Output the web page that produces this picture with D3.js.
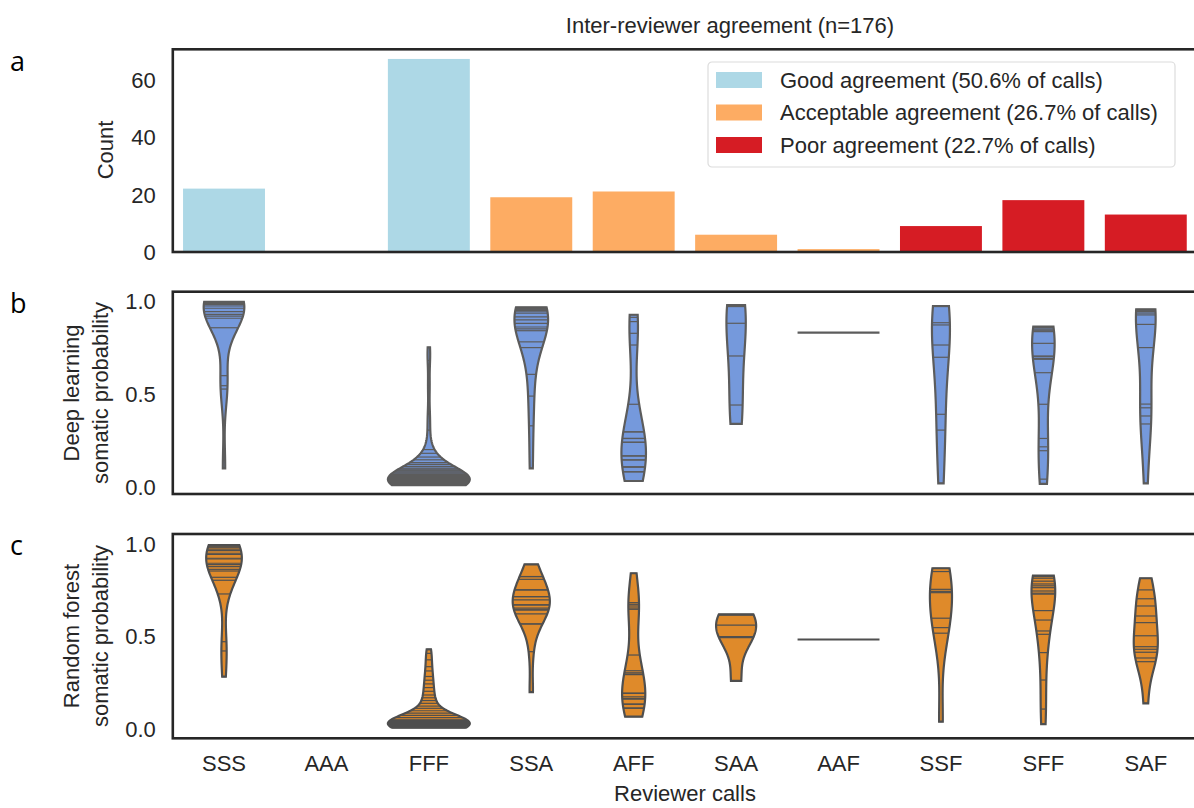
<!DOCTYPE html>
<html>
<head>
<meta charset="utf-8">
<title>Inter-reviewer agreement</title>
<style>
  body { margin: 0; background: #fff; }
  svg { display: block; font-family: "Liberation Sans", Arial, sans-serif; }
  .tick text { fill: #262626; font-size: 22px; font-family: "Liberation Sans", Arial, sans-serif; }
  .lbl { fill: #262626; font-size: 22px; }
  .panel { font-family: "Open Sans", sans-serif; font-size: 27px; fill: #000; }
</style>
</head>
<body>
<script src="https://cdn.jsdelivr.net/npm/d3@7"></script>
<script>

// reviewer call categories and how many of the 176 calls fall in each
var categories = ["SSS", "AAA", "FFF", "SSA", "AFF", "SAA", "AAF", "SSF", "SFF", "SAF"];
var groups     = ["good", "good", "good", "acceptable", "acceptable", "acceptable", "acceptable", "poor", "poor", "poor"];
var counts     = [22, 0, 67, 19, 21, 6, 1, 9, 18, 13];

var legendLabels = ["Good agreement (50.6% of calls)", "Acceptable agreement (26.7% of calls)", "Poor agreement (22.7% of calls)"];
var groupKeys    = ["good", "acceptable", "poor"];
var groupColors  = ["#add8e6", "#fdac63", "#d61c24"];

var countTicks = [0, 20, 40, 60];
var probTicks  = [0, 0.5, 1];

// deep learning somatic probability per call
var dlSSS = [0.995, 0.994, 0.993, 0.992, 0.99, 0.989, 0.988, 0.986, 0.985, 0.983, 0.98, 0.973, 0.961, 0.943, 0.928, 0.919, 0.907, 0.856, 0.598, 0.544, 0.526, 0.099];
var dlAAA = [];
var dlFFF = [0.75, 0.68, 0.54, 0.39, 0.305, 0.20, 0.18, 0.16, 0.145, 0.13, 0.12, 0.11, 0.10, 0.095, 0.09, 0.085, 0.08, 0.075, 0.07, 0.066,
             0.063, 0.06, 0.057, 0.054, 0.052, 0.05, 0.048, 0.046, 0.045, 0.044, 0.042, 0.041, 0.040, 0.039, 0.038, 0.037, 0.036, 0.035, 0.034, 0.033,
             0.032, 0.031, 0.030, 0.029, 0.028, 0.027, 0.026, 0.025, 0.024, 0.023, 0.022, 0.021, 0.020, 0.019, 0.018, 0.017, 0.016, 0.015, 0.014, 0.013,
             0.012, 0.011, 0.010, 0.010, 0.009, 0.009, 0.009];
var dlSSA = [0.966, 0.962, 0.96, 0.955, 0.95, 0.945, 0.935, 0.915, 0.898, 0.88, 0.86, 0.85, 0.84, 0.78, 0.749, 0.605, 0.488, 0.328, 0.099];
var dlAFF = [0.926, 0.912, 0.889, 0.826, 0.763, 0.444, 0.296, 0.295, 0.26, 0.26, 0.24, 0.239, 0.167, 0.165, 0.145, 0.144, 0.108, 0.105, 0.081, 0.08, 0.031];
var dlSAA = [0.978, 0.97, 0.88, 0.704, 0.44, 0.338];
var dlAAF = [0.83];
var dlSSF = [0.973, 0.97, 0.883, 0.871, 0.763, 0.697, 0.39, 0.305, 0.018];
var dlSFF = [0.862, 0.86, 0.855, 0.848, 0.84, 0.835, 0.772, 0.704, 0.70, 0.69, 0.686, 0.614, 0.444, 0.26, 0.215, 0.194, 0.041, 0.015];
var dlSAF = [0.955, 0.95, 0.945, 0.943, 0.935, 0.925, 0.874, 0.749, 0.445, 0.425, 0.381, 0.338, 0.018];

// random forest somatic probability per call
var rfSSS = [0.99, 0.988, 0.985, 0.98, 0.975, 0.964, 0.96, 0.946, 0.94, 0.919, 0.915, 0.892, 0.885, 0.874, 0.859, 0.85, 0.816, 0.80, 0.726, 0.468, 0.418, 0.279];
var rfAAA = [];
var rfFFF = [0.427, 0.405, 0.37, 0.333, 0.31, 0.28, 0.26, 0.24, 0.22, 0.20, 0.18, 0.165, 0.15, 0.135, 0.12, 0.108, 0.095, 0.082, 0.07, 0.058,
             0.045, 0.044, 0.043, 0.042, 0.041, 0.040, 0.039, 0.038, 0.037, 0.036, 0.035, 0.034, 0.033, 0.032, 0.031, 0.030, 0.029, 0.028, 0.027, 0.026,
             0.025, 0.024, 0.023, 0.022, 0.021, 0.020, 0.019, 0.018, 0.017, 0.016, 0.015, 0.014, 0.013, 0.012, 0.011, 0.010, 0.009, 0.009, 0.008, 0.008,
             0.007, 0.007, 0.006, 0.006, 0.005, 0.004, 0.003];
var rfSSA = [0.886, 0.82, 0.82, 0.805, 0.748, 0.748, 0.712, 0.712, 0.694, 0.667, 0.667, 0.649, 0.64, 0.64, 0.618, 0.564, 0.564, 0.414, 0.195];
var rfAFF = [0.838, 0.679, 0.67, 0.661, 0.65, 0.643, 0.396, 0.311, 0.30, 0.293, 0.29, 0.19, 0.189, 0.17, 0.16, 0.158, 0.131, 0.13, 0.11, 0.108, 0.063];
var rfSAA = [0.616, 0.612, 0.558, 0.495, 0.49, 0.256];
var rfAAF = [0.48];
var rfSSF = [0.865, 0.847, 0.751, 0.74, 0.733, 0.595, 0.544, 0.514, 0.036];
var rfSFF = [0.825, 0.82, 0.811, 0.795, 0.78, 0.77, 0.76, 0.742, 0.73, 0.725, 0.636, 0.585, 0.526, 0.508, 0.409, 0.261, 0.104, 0.023];
var rfSAF = [0.811, 0.748, 0.70, 0.661, 0.607, 0.571, 0.50, 0.441, 0.427, 0.411, 0.38, 0.36, 0.135];

var dlValues = [dlSSS, dlAAA, dlFFF, dlSSA, dlAFF, dlSAA, dlAAF, dlSSF, dlSFF, dlSAF];
var rfValues = [rfSSS, rfAAA, rfFFF, rfSSA, rfAFF, rfSAA, rfAAF, rfSSF, rfSFF, rfSAF];

var W = 1194, H = 808;
var left = 172.8, right = 1197;

var svg = d3.select("body").append("svg")
  .attr("width", W)
  .attr("height", H);

var x = d3.scaleBand().domain(categories).range([left, right]);
var color = d3.scaleOrdinal().domain(groupKeys).range(groupColors);

function frame(top, bottom) {
  svg.append("rect")
    .attr("x", left).attr("y", top)
    .attr("width", right - left).attr("height", bottom - top)
    .attr("fill", "none")
    .attr("stroke", "#262626")
    .attr("stroke-width", 2.6);
}

function yAxis(y, ticks, fmt) {
  var g = svg.append("g")
    .attr("transform", "translate(" + left + ",0)")
    .call(d3.axisLeft(y).tickValues(ticks).tickSize(0).tickPadding(17).tickFormat(fmt));
  g.attr("font-family", null);
  g.select(".domain").remove();
  g.selectAll("text").attr("dy", "0.36em");
}

function ylabel(lines, cx, cy) {
  var t = svg.append("text")
    .attr("class", "lbl")
    .attr("text-anchor", "middle")
    .attr("transform", "translate(" + cx + "," + cy + ") rotate(-90)");
  lines.forEach(function(l, i) {
    t.append("tspan").attr("x", 0).attr("dy", i == 0 ? 0 : 29).text(l);
  });
}

// ---------- panel a : counts ----------
var ya = d3.scaleLinear().domain([0, 70.35]).range([252, 49.3]);

svg.selectAll("rect.bar")
  .data(categories)
  .enter().append("rect")
  .attr("class", "bar")
  .attr("x", function(d) { return x(d) + x.bandwidth() * 0.1; })
  .attr("width", x.bandwidth() * 0.8)
  .attr("y", function(d, i) { return ya(counts[i]); })
  .attr("height", function(d, i) { return ya(0) - ya(counts[i]); })
  .attr("fill", function(d, i) { return color(groups[i]); });

frame(49.3, 252);
yAxis(ya, countTicks, d3.format("d"));
ylabel(["Count"], 113, 150);

// legend
var lg = svg.append("g").attr("transform", "translate(708,62)");
lg.append("rect")
  .attr("width", 467).attr("height", 105)
  .attr("rx", 4)
  .attr("fill", "#fff")
  .attr("stroke", "#dcdcdc")
  .attr("stroke-width", 1.2);
legendLabels.forEach(function(l, i) {
  lg.append("rect")
    .attr("x", 8).attr("y", 10 + i * 32.5)
    .attr("width", 46).attr("height", 16)
    .attr("fill", groupColors[i]);
  lg.append("text")
    .attr("class", "lbl")
    .attr("x", 72).attr("y", 18 + i * 32.5)
    .attr("dy", "0.36em")
    .text(l);
});

// ---------- violins ----------
function kde(values) {
  var n = values.length;
  var sd = d3.deviation(values);
  var bw = sd * Math.pow(n, -0.2);
  var lo = d3.min(values), hi = d3.max(values);
  var support = d3.range(100).map(function(i) { return lo + (hi - lo) * i / 99; });
  var norm = n * bw * Math.sqrt(2 * Math.PI);
  var dens = support.map(function(s) {
    return d3.sum(values, function(v) { var u = (s - v) / bw; return Math.exp(-0.5 * u * u); }) / norm;
  });
  return { support: support, dens: dens };
}

function violinPanel(values, y, fill, gray) {
  var fits = values.map(function(v) { return v.length > 1 ? kde(v) : null; });
  var maxD = d3.max(fits, function(f) { return f ? d3.max(f.dens) : 0; });
  var half = x.bandwidth() * 0.4;

  values.forEach(function(v, i) {
    var cx = x(categories[i]) + x.bandwidth() / 2;
    if (v.length == 0) return;
    if (v.length == 1) {
      svg.append("line")
        .attr("x1", cx - half).attr("x2", cx + half)
        .attr("y1", y(v[0])).attr("y2", y(v[0]))
        .attr("stroke", gray).attr("stroke-width", 2.2);
      return;
    }
    var f = fits[i];
    var pts = f.support.map(function(s, k) { return { s: s, w: f.dens[k] / maxD * half }; });
    var area = d3.area()
      .y(function(d) { return y(d.s); })
      .x0(function(d) { return cx - d.w; })
      .x1(function(d) { return cx + d.w; });
    svg.append("path")
      .attr("d", area(pts))
      .attr("fill", fill)
      .attr("stroke", gray)
      .attr("stroke-width", 2.2);
    // stick lines, one per call
    v.forEach(function(val) {
      var k = d3.minIndex(f.support, function(s) { return Math.abs(s - val); });
      var w = f.dens[k] / maxD * half * 0.99;
      svg.append("line")
        .attr("x1", cx - w).attr("x2", cx + w)
        .attr("y1", y(val)).attr("y2", y(val))
        .attr("stroke", gray).attr("stroke-width", 1.2);
    });
  });
}

// panel b
var yb = d3.scaleLinear().domain([-0.039, 1.05]).range([494, 291.7]);
violinPanel(dlValues, yb, "#7599dc", "#5c5c5c");
frame(291.7, 494);
yAxis(yb, probTicks, d3.format(".1f"));
ylabel(["Deep learning", "somatic probability"], 79, 393);

// panel c
var yc = d3.scaleLinear().domain([-0.054, 1.05]).range([738.3, 534]);
violinPanel(rfValues, yc, "#df8a2a", "#4f4f4f");
frame(534, 738.3);
yAxis(yc, probTicks, d3.format(".1f"));
ylabel(["Random forest", "somatic probability"], 79, 636);

// x axis under the last panel
var xa = svg.append("g")
  .attr("transform", "translate(0,738.3)")
  .call(d3.axisBottom(x).tickSize(0).tickPadding(17));
xa.attr("font-family", null);
xa.select(".domain").remove();

svg.append("text").attr("class", "lbl")
  .attr("x", 685).attr("y", 801)
  .attr("text-anchor", "middle")
  .text("Reviewer calls");

svg.append("text").attr("class", "lbl")
  .attr("x", 730).attr("y", 33)
  .attr("text-anchor", "middle")
  .text("Inter-reviewer agreement (n=176)");

// panel letters
svg.append("text").attr("class", "panel").attr("x", 10).attr("y", 71).text("a");
svg.append("text").attr("class", "panel").attr("x", 10).attr("y", 313).text("b");
svg.append("text").attr("class", "panel").attr("x", 10).attr("y", 555).text("c");

</script>
</body>
</html>
